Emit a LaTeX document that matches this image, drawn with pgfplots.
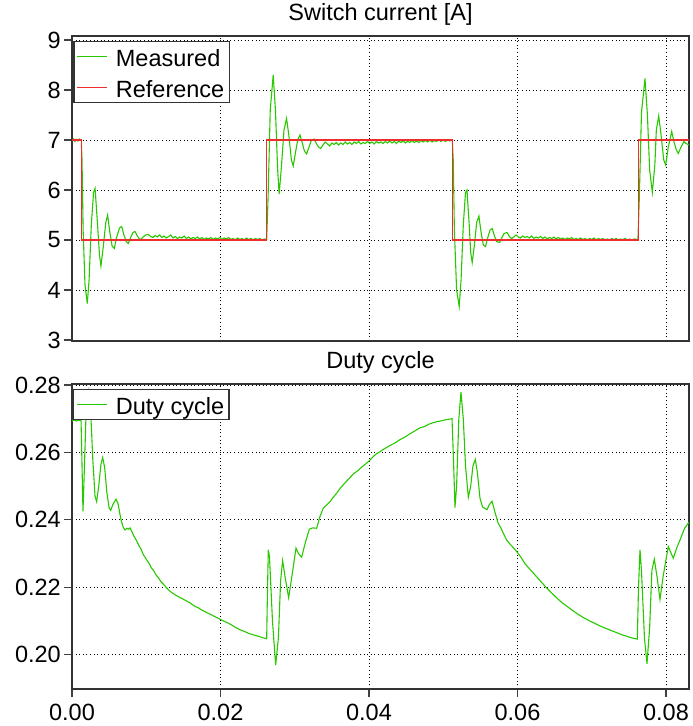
\documentclass[border=0pt]{standalone}
\usepackage{pgfplots}
\pgfplotsset{compat=1.18}
\usepackage{fontspec}
\setmainfont{Liberation Sans}
\definecolor{mgreen}{RGB}{40,200,0}
\definecolor{mred}{RGB}{240,45,45}
\newcommand{\fs}{\fontsize{23.5}{28}\selectfont}
\pgfplotsset{mystyle/.style={
  scale only axis, width=617pt, height=305pt,
  xmin=0, xmax=0.0831,
  xtick={0,0.02,0.04,0.06,0.08},
  grid=major,
  major grid style={black, line width=0.8pt, dash pattern=on 1pt off 2.6pt},
  axis line style={black!80, line width=1.2pt},
  tick align=outside, xtick pos=left, ytick pos=left,
  major tick length=8pt,
  tick style={black!75, line width=1.2pt},
  tick label style={font=\fs},
  yticklabel style={inner xsep=3pt},
  xticklabel style={inner ysep=7pt},
  /pgf/number format/assume math mode=true,
  title style={font=\fs, at={(0.5,1)}, anchor=base, yshift=9pt},
  legend style={at={(0,1)}, anchor=north west, xshift=1.3pt, yshift=-4.7pt,
    font=\fs, draw=black!80, line width=1.2pt, fill=white,
    inner xsep=2.8pt, inner ysep=1pt, row sep=3pt, column sep=6pt,
    nodes={inner sep=2pt, text height=22pt, text depth=2pt}},
  legend cell align=left,
  legend image code/.code={\draw[#1, line width=1.2pt] (0pt,0pt) -- (30pt,0pt);},
  scaled x ticks=false,
  scaled y ticks=false,
}}
\begin{document}
\begin{tikzpicture}
\begin{axis}[mystyle, at={(72pt,385pt)}, anchor=south west,
  ymin=2.98, ymax=9.08, ytick={3,4,5,6,7,8,9},
  xticklabels={}, major x tick style={draw=none},
  title={Switch current [A]}]
\addplot[mgreen, line width=1.1pt] coordinates {
(0,6.98) (0.0002,7.02) (0.0004,6.97) (0.0006,7.01) (0.0008,6.98) (0.0010,7.02) (0.00125,6.99)
(0.00135,6.6) (0.0015,5.2) (0.00175,4.1) (0.00206,3.73) (0.0023,4.2) (0.0026,5.3) (0.0029,5.95)
(0.00311,6.03) (0.0034,5.4) (0.0037,4.7) (0.0039,4.48) (0.0042,4.85) (0.00455,5.35) (0.0048,5.5)
(0.0051,5.15) (0.0054,4.88) (0.0057,4.83) (0.0060,5.05) (0.0064,5.24) (0.00669,5.27) (0.0070,5.1)
(0.0073,4.97) (0.00758,4.93) (0.0079,5.05) (0.0082,5.15) (0.00848,5.17) (0.0088,5.08) (0.00916,5.0)
(0.0095,5.05) (0.0099,5.1) (0.01028,5.11) (0.0106,5.07) (0.0109,5.05) (0.0112,5.09) (0.0115,5.06)
(0.0118,5.1) (0.0121,5.05) (0.0124,5.08) (0.0127,5.04) (0.0130,5.07) (0.0133,5.1) (0.0136,5.04)
(0.0139,5.07) (0.0142,5.03) (0.0145,5.06) (0.0148,5.04) (0.0151,5.08) (0.0154,5.03) (0.0157,5.06)
(0.0160,5.02) (0.0163,5.05) (0.0166,5.03) (0.0169,5.06) (0.0172,5.02) (0.0175,5.05) (0.0178,5.01)
(0.0181,5.04) (0.0184,5.02) (0.0187,5.05) (0.0190,5.01) (0.0193,5.04) (0.0196,5.02) (0.0199,5.05)
(0.0202,5.01) (0.0205,5.04) (0.0208,5.02) (0.0211,5.05) (0.0214,5.01) (0.0217,5.03) (0.0220,5.00)
(0.0223,5.04) (0.0226,5.01) (0.0229,5.03) (0.0232,5.00) (0.0235,5.04) (0.0238,5.01) (0.0241,5.03)
(0.0244,5.00) (0.0247,5.03) (0.0250,5.01) (0.0253,5.03) (0.0256,5.00) (0.0259,5.02) (0.02622,5.01)
(0.0264,5.8) (0.0267,7.6) (0.0271,8.3) (0.0274,7.6) (0.0277,6.4) (0.0279,5.92) (0.0282,6.45)
(0.02855,7.2) (0.0289,7.43) (0.0292,7.1) (0.02955,6.6) (0.0298,6.48) (0.0301,6.75) (0.0304,7.0)
(0.0307,7.1) (0.0310,6.95) (0.0313,6.78) (0.0316,6.72) (0.0319,6.85) (0.0322,6.98) (0.0326,7.02)
(0.0329,6.93) (0.0332,6.86) (0.0335,6.83) (0.0338,6.9) (0.0341,6.96) (0.0344,6.92) (0.0347,6.88)
(0.0350,6.94) (0.0353,6.91) (0.0356,6.95) (0.0359,6.9) (0.0362,6.94) (0.0365,6.91) (0.0368,6.96)
(0.0371,6.92) (0.0374,6.95) (0.0377,6.91) (0.0380,6.96) (0.0383,6.93) (0.0386,6.97) (0.0389,6.92)
(0.0392,6.95) (0.0395,6.93) (0.0398,6.97) (0.0401,6.93) (0.0404,6.96) (0.0407,6.92) (0.0410,6.97)
(0.0413,6.94) (0.0416,6.96) (0.0419,6.93) (0.0422,6.97) (0.0425,6.94) (0.0428,6.98) (0.0431,6.94)
(0.0434,6.97) (0.0437,6.93) (0.0440,6.98) (0.0443,6.95) (0.0446,6.98) (0.0449,6.94) (0.0452,6.97)
(0.0455,6.95) (0.0458,6.99) (0.0461,6.95) (0.0464,6.98) (0.0467,6.95) (0.0470,6.99) (0.0473,6.96)
(0.0476,6.99) (0.0479,6.96) (0.0482,7.0) (0.0485,6.96) (0.0488,6.99) (0.0491,6.97) (0.0494,7.01)
(0.0497,6.97) (0.0500,7.0) (0.0503,6.97) (0.0506,7.01) (0.0509,6.98) (0.05122,7.0)
(0.05135,6.6) (0.0515,5.2) (0.0518,4.0) (0.05215,3.67) (0.0524,4.2) (0.0527,5.3) (0.0530,5.95)
(0.0532,6.0) (0.0535,5.3) (0.0537,4.75) (0.0539,4.55) (0.0542,4.9) (0.0545,5.35) (0.0548,5.48)
(0.0551,5.15) (0.0554,4.9) (0.0557,4.87) (0.0560,5.05) (0.0563,5.2) (0.0566,5.23) (0.0569,5.08)
(0.0572,4.97) (0.0576,4.95) (0.0579,5.05) (0.0582,5.13) (0.0586,5.15) (0.0589,5.07) (0.0592,5.03)
(0.0595,5.06) (0.0598,5.1) (0.0601,5.06) (0.0604,5.04) (0.0607,5.08) (0.0610,5.05) (0.0613,5.07)
(0.0616,5.04) (0.0619,5.08) (0.0622,5.03) (0.0625,5.06) (0.0628,5.04) (0.0631,5.07) (0.0634,5.03)
(0.0637,5.06) (0.0640,5.02) (0.0643,5.05) (0.0646,5.03) (0.0649,5.06) (0.0652,5.02) (0.0655,5.05)
(0.0658,5.02) (0.0661,5.04) (0.0664,5.01) (0.0667,5.04) (0.0670,5.02) (0.0673,5.05) (0.0676,5.01)
(0.0679,5.03) (0.0682,5.01) (0.0685,5.04) (0.0688,5.01) (0.0691,5.03) (0.0694,5.00) (0.0697,5.03)
(0.0700,5.01) (0.0703,5.04) (0.0706,5.00) (0.0709,5.03) (0.0712,5.01) (0.0715,5.03) (0.0718,5.00)
(0.0721,5.02) (0.0724,5.00) (0.0727,5.03) (0.0730,5.01) (0.0733,5.03) (0.0736,5.00) (0.0739,5.02)
(0.0742,5.01) (0.0745,5.03) (0.0748,5.00) (0.0751,5.02) (0.0754,5.00) (0.0757,5.02) (0.07622,5.01)
(0.0764,5.8) (0.0767,7.55) (0.07717,8.23) (0.0775,7.5) (0.0778,6.4) (0.07816,5.95) (0.0785,6.5)
(0.0787,7.2) (0.07902,7.48) (0.0793,7.15) (0.0797,6.6) (0.07996,6.5) (0.0803,6.85) (0.08077,7.17)
(0.0811,6.95) (0.0814,6.8) (0.08166,6.73) (0.0820,6.85) (0.08242,6.97) (0.0827,6.93) (0.0831,6.9)
};
\addlegendentry{Measured}
\addplot[mred, line width=1.1pt] coordinates {
(0,7) (0.00125,7) (0.00125,5) (0.02625,5) (0.02625,7) (0.05125,7) (0.05125,5) (0.07625,5) (0.07625,7) (0.0831,7)
};
\addlegendentry{Reference}
\end{axis}
\begin{axis}[mystyle, at={(72pt,37pt)}, anchor=south west,
  ymin=0.1898, ymax=0.2803, ytick={0.20,0.22,0.24,0.26,0.28},
  yticklabel style={/pgf/number format/.cd, fixed, fixed zerofill, precision=2},
  xticklabel style={/pgf/number format/.cd, fixed, fixed zerofill, precision=2},
  title={Duty cycle}]
\addplot[mgreen, line width=1.1pt] coordinates {
(0,0.2694) (0.0003,0.2696) (0.0006,0.2693) (0.0009,0.2696) (0.00122,0.2694)
(0.00135,0.2560) (0.00148,0.2425) (0.00165,0.2540) (0.0019,0.2720) (0.0022,0.2780) (0.0025,0.2730)
(0.0028,0.2580) (0.0031,0.2470) (0.00332,0.2454) (0.0036,0.2500) (0.0039,0.2565) (0.00413,0.2585)
(0.0044,0.2555) (0.0047,0.2480) (0.0050,0.2435) (0.00521,0.2428) (0.0055,0.2445) (0.00593,0.2461)
(0.0062,0.2448) (0.0066,0.2400) (0.0069,0.2378) (0.00714,0.2370) (0.0074,0.2375) (0.0076,0.2372)
(0.00781,0.2376) (0.0080,0.2368) (0.00835,0.2351) (0.0087,0.2338) (0.0090,0.2324) (0.0093,0.2313)
(0.0096,0.2297) (0.01006,0.2281) (0.0104,0.2270) (0.0107,0.2257) (0.0110,0.2249) (0.0113,0.2237)
(0.0117,0.2226) (0.0120,0.2216) (0.0124,0.2207) (0.01275,0.2198) (0.0131,0.2190) (0.0135,0.2183)
(0.0140,0.2176) (0.0145,0.2170) (0.01545,0.2159) (0.0160,0.2152) (0.0165,0.2144) (0.0170,0.2139)
(0.0175,0.2132) (0.01814,0.2125) (0.0187,0.2119) (0.01993,0.2105) (0.0205,0.2099) (0.0210,0.2094)
(0.0215,0.2088) (0.0220,0.2081) (0.02263,0.2074) (0.0232,0.2069) (0.0237,0.2064) (0.0242,0.2060)
(0.0247,0.2057) (0.0252,0.2054) (0.0257,0.2050) (0.02622,0.2047)
(0.02632,0.2180) (0.02644,0.2311) (0.0266,0.2290) (0.0270,0.2100) (0.02743,0.1969) (0.0278,0.2050)
(0.0281,0.2220) (0.02837,0.2279) (0.0287,0.2230) (0.02918,0.2169) (0.0296,0.2230) (0.03017,0.2316)
(0.0305,0.2300) (0.03093,0.2289) (0.0314,0.2330) (0.03196,0.2372) (0.0324,0.2376) (0.03295,0.2375)
(0.0334,0.2410) (0.03385,0.2435) (0.0343,0.2444) (0.0348,0.2455) (0.0352,0.2467) (0.03565,0.2479)
(0.0361,0.2493) (0.0367,0.2508) (0.0373,0.2522) (0.03789,0.2536) (0.0385,0.2546) (0.0390,0.2556)
(0.0395,0.2565) (0.0400,0.2574) (0.0405,0.2586) (0.0410,0.2596) (0.04148,0.2602) (0.0420,0.2610)
(0.0428,0.2620) (0.0435,0.2628) (0.04418,0.2638) (0.0448,0.2645) (0.0455,0.2655) (0.0462,0.2664)
(0.04687,0.2673) (0.0475,0.2677) (0.0480,0.2683) (0.0486,0.2688) (0.04912,0.2691) (0.0496,0.2693)
(0.0500,0.2695) (0.0506,0.2698) (0.05118,0.2700)
(0.05138,0.2580) (0.05158,0.2436) (0.0518,0.2500) (0.0521,0.2700) (0.05239,0.2779) (0.0527,0.2700)
(0.0530,0.2560) (0.05338,0.2467) (0.0537,0.2500) (0.0540,0.2560) (0.05432,0.2579) (0.0546,0.2540)
(0.05495,0.2464) (0.0553,0.2438) (0.0559,0.2430) (0.0562,0.2445) (0.05657,0.2455) (0.0570,0.2420)
(0.0574,0.2390) (0.05778,0.2375) (0.0582,0.2355) (0.05854,0.2340) (0.0590,0.2328) (0.0595,0.2316)
(0.05989,0.2306) (0.0605,0.2288) (0.0610,0.2270) (0.0616,0.2255) (0.06213,0.2242) (0.0627,0.2228)
(0.0633,0.2213) (0.06393,0.2198) (0.0646,0.2183) (0.0652,0.2170) (0.0659,0.2156) (0.06662,0.2144)
(0.0673,0.2133) (0.0680,0.2122) (0.06887,0.2110) (0.0697,0.2100) (0.0705,0.2092) (0.0712,0.2084)
(0.07201,0.2077) (0.0728,0.2070) (0.0735,0.2064) (0.0742,0.2058) (0.0749,0.2053) (0.0755,0.2049)
(0.07614,0.2046)
(0.0763,0.2200) (0.0765,0.2311) (0.0767,0.2250) (0.0771,0.2050) (0.07744,0.1973) (0.0778,0.2080)
(0.0781,0.2250) (0.07843,0.2283) (0.0788,0.2230) (0.07919,0.2164) (0.0796,0.2230) (0.08031,0.2321)
(0.0807,0.2300) (0.08099,0.2286) (0.0815,0.2320) (0.08189,0.2340) (0.0825,0.2375) (0.0831,0.2393)
};
\addlegendentry{Duty cycle}
\end{axis}
\pgfresetboundingbox
\useasboundingbox (0,0) rectangle (693pt,726pt);
\end{tikzpicture}
\end{document}
